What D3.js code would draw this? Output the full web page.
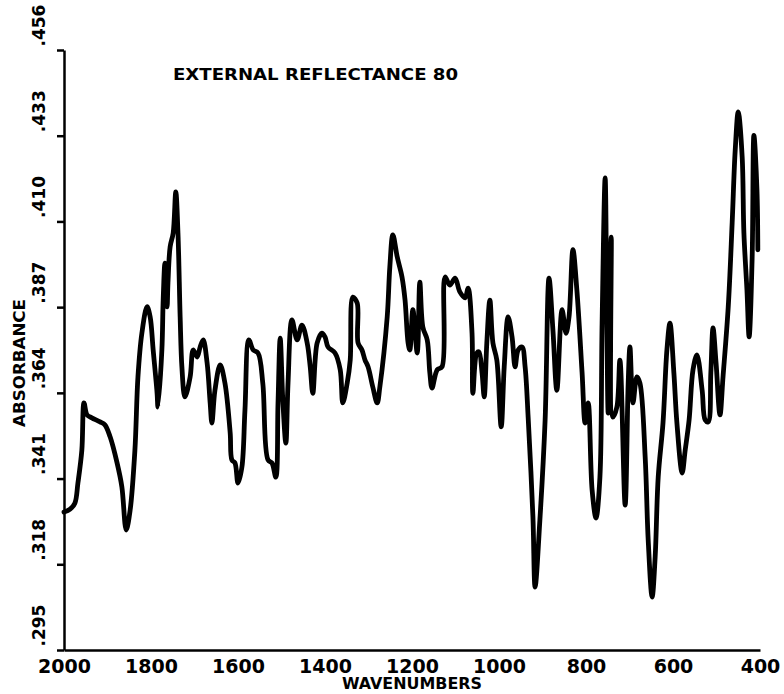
<!DOCTYPE html>
<html>
<head>
<meta charset="utf-8">
<script src="https://cdn.jsdelivr.net/npm/d3@7"></script>
<style>
    body { margin: 0; background: #fff; }
    svg text { font-family: "DejaVu Sans", sans-serif; font-weight: bold; fill: #000; }
</style>
</head>
<body>
<svg id="chart" width="784" height="694"></svg>
<script>
var title = "EXTERNAL REFLECTANCE 80";
var xTitle = "WAVENUMBERS";
var yTitle = "ABSORBANCE";

var xTicks = [2000, 1800, 1600, 1400, 1200, 1000, 800, 600, 400];
var yTicks = [0.295, 0.318, 0.341, 0.364, 0.387, 0.410, 0.433, 0.456];
var yTickLabels = [".295", ".318", ".341", ".364", ".387", ".410", ".433", ".456"];

// spectrum, wavenumber (cm-1) / absorbance
var wavenumbers = [
    2000, 1986, 1975, 1968, 1959, 1954, 1947, 1936, 1917, 1906, 1894, 1878, 1867, 1857, 1848, 1837,
    1830, 1821, 1809, 1802, 1795, 1786, 1784, 1775, 1772, 1768, 1763, 1761, 1756, 1749, 1743, 1738,
    1733, 1729, 1722, 1710, 1703, 1694, 1687, 1680, 1671, 1664, 1660, 1653, 1641, 1630, 1618, 1614,
    1607, 1600, 1591, 1584, 1575, 1565, 1554, 1543, 1531, 1522, 1513, 1508, 1503, 1497, 1490, 1485,
    1476, 1464, 1453, 1441, 1434, 1428, 1418, 1407, 1400, 1393, 1377, 1365, 1359, 1349, 1342, 1336,
    1326, 1324, 1315, 1308, 1301, 1290, 1280, 1274, 1257, 1251, 1244, 1234, 1223, 1216, 1209, 1205,
    1198, 1188, 1182, 1175, 1165, 1159, 1154, 1142, 1131, 1124, 1113, 1101, 1090, 1078, 1071, 1062,
    1060, 1051, 1046, 1039, 1034, 1028, 1021, 1014, 1005, 995, 988, 979, 970, 963, 956, 947,
    940, 933, 922, 917, 906, 894, 885, 876, 867, 855, 846, 839, 830, 821, 809, 802,
    795, 786, 777, 768, 763, 756, 752, 749, 742, 738, 729, 722, 710, 703, 699, 692,
    683, 676, 664, 657, 648, 641, 634, 623, 614, 607, 598, 591, 579, 572, 563, 554,
    545, 533, 526, 519, 513, 508, 501, 492, 485, 473, 464, 457, 450, 441, 437, 430,
    425, 418, 414, 407, 405
];
var absorbance = [
    0.3320, 0.3328, 0.3344, 0.3398, 0.3486, 0.3613, 0.3581, 0.3573, 0.3562, 0.3554, 0.3522, 0.3452, 0.3388, 0.3272, 0.3325, 0.3486,
    0.3683, 0.3800, 0.3871, 0.3844, 0.3755, 0.3639, 0.3602, 0.3755, 0.3889, 0.3988, 0.3871, 0.3935, 0.4032, 0.4069, 0.4179, 0.4069,
    0.3844, 0.3710, 0.3629, 0.3683, 0.3755, 0.3736, 0.3763, 0.3782, 0.3720, 0.3613, 0.3559, 0.3647, 0.3715, 0.3666, 0.3533, 0.3460,
    0.3452, 0.3398, 0.3441, 0.3594, 0.3782, 0.3755, 0.3747, 0.3666, 0.3460, 0.3452, 0.3414, 0.3613, 0.3787, 0.3621, 0.3505, 0.3666,
    0.3836, 0.3782, 0.3822, 0.3774, 0.3710, 0.3639, 0.3774, 0.3800, 0.3790, 0.3763, 0.3747, 0.3702, 0.3613, 0.3666, 0.3728, 0.3897,
    0.3881, 0.3774, 0.3755, 0.3728, 0.3710, 0.3655, 0.3613, 0.3655, 0.3844, 0.3977, 0.4064, 0.4005, 0.3951, 0.3889, 0.3774, 0.3755,
    0.3863, 0.3747, 0.3937, 0.3816, 0.3782, 0.3694, 0.3653, 0.3702, 0.3710, 0.3951, 0.3929, 0.3948, 0.3911, 0.3895, 0.3921, 0.3800,
    0.3639, 0.3747, 0.3750, 0.3694, 0.3629, 0.3774, 0.3889, 0.3774, 0.3728, 0.3549, 0.3710, 0.3844, 0.3790, 0.3710, 0.3755, 0.3763,
    0.3710, 0.3575, 0.3307, 0.3119, 0.3299, 0.3567, 0.3948, 0.3808, 0.3647, 0.3863, 0.3800, 0.3844, 0.4024, 0.3916, 0.3694, 0.3559,
    0.3613, 0.3380, 0.3304, 0.3414, 0.3827, 0.4217, 0.3827, 0.3586, 0.4058, 0.3575, 0.3602, 0.3728, 0.3339, 0.3666, 0.3763, 0.3613,
    0.3683, 0.3666, 0.3468, 0.3245, 0.3092, 0.3200, 0.3414, 0.3559, 0.3755, 0.3827, 0.3694, 0.3559, 0.3425, 0.3486, 0.3567, 0.3702,
    0.3742, 0.3647, 0.3567, 0.3562, 0.3694, 0.3814, 0.3720, 0.3581, 0.3683, 0.3871, 0.4096, 0.4291, 0.4394, 0.4273, 0.4069, 0.3916,
    0.3790, 0.4005, 0.4331, 0.4185, 0.4024
];

var svg = d3.select('#chart');

var x = d3.scaleLinear().domain([2000, 400]).range([64, 760]);
var y = d3.scaleLinear().domain([0.295, 0.456]).range([650, 50]);

var points = wavenumbers.map(function (w, i) {
    return {w: w, a: absorbance[i]};
});

// y axis, labels turned to read upwards and sitting just above their tick
var yAxis = svg.append('g')
    .attr('transform', 'translate(64,0)')
    .call(d3.axisLeft(y)
        .tickValues(yTicks)
        .tickSize(7)
        .tickSizeOuter(0)
        .tickFormat(function (d, i) {
            return yTickLabels[i];
        }));
yAxis.select('.domain').attr('stroke-width', 2.5);
yAxis.selectAll('.tick line').attr('stroke-width', 2.5);
yAxis.selectAll('.tick text')
    .attr('x', null)
    .attr('dy', null)
    .attr('transform', 'translate(-19,-4) rotate(-90)')
    .attr('text-anchor', 'start')
    .style('font-size', '17px');

// x axis, no tick marks on the original
var xAxis = svg.append('g')
    .attr('transform', 'translate(0,650)')
    .call(d3.axisBottom(x)
        .tickValues(xTicks)
        .tickSize(0)
        .tickSizeOuter(0)
        .tickFormat(d3.format('d')));
xAxis.select('.domain').attr('stroke-width', 2.5);
xAxis.selectAll('.tick text')
    .attr('y', 23)
    .attr('dy', null)
    .style('font-size', '19px');

svg.selectAll('.domain, .tick line').attr('stroke', '#000');

var line = d3.line()
    .x(function (d) { return x(d.w); })
    .y(function (d) { return y(d.a); })
    .curve(d3.curveCatmullRom.alpha(0.5));

svg.append('path')
    .datum(points)
    .attr('d', line)
    .attr('fill', 'none')
    .attr('stroke', '#000')
    .attr('stroke-width', 4.8)
    .attr('stroke-linejoin', 'round')
    .attr('stroke-linecap', 'round');

svg.append('text')
    .attr('x', 173)
    .attr('y', 80)
    .attr('textLength', 285)
    .attr('lengthAdjust', 'spacingAndGlyphs')
    .style('font-size', '16px')
    .text(title);

svg.append('text')
    .attr('x', 342)
    .attr('y', 689)
    .attr('textLength', 140)
    .attr('lengthAdjust', 'spacingAndGlyphs')
    .style('font-size', '15px')
    .text(xTitle);

svg.append('text')
    .attr('transform', 'translate(25,363) rotate(-90)')
    .attr('text-anchor', 'middle')
    .attr('textLength', 128)
    .attr('lengthAdjust', 'spacingAndGlyphs')
    .style('font-size', '16px')
    .text(yTitle);
</script>
</body>
</html>
